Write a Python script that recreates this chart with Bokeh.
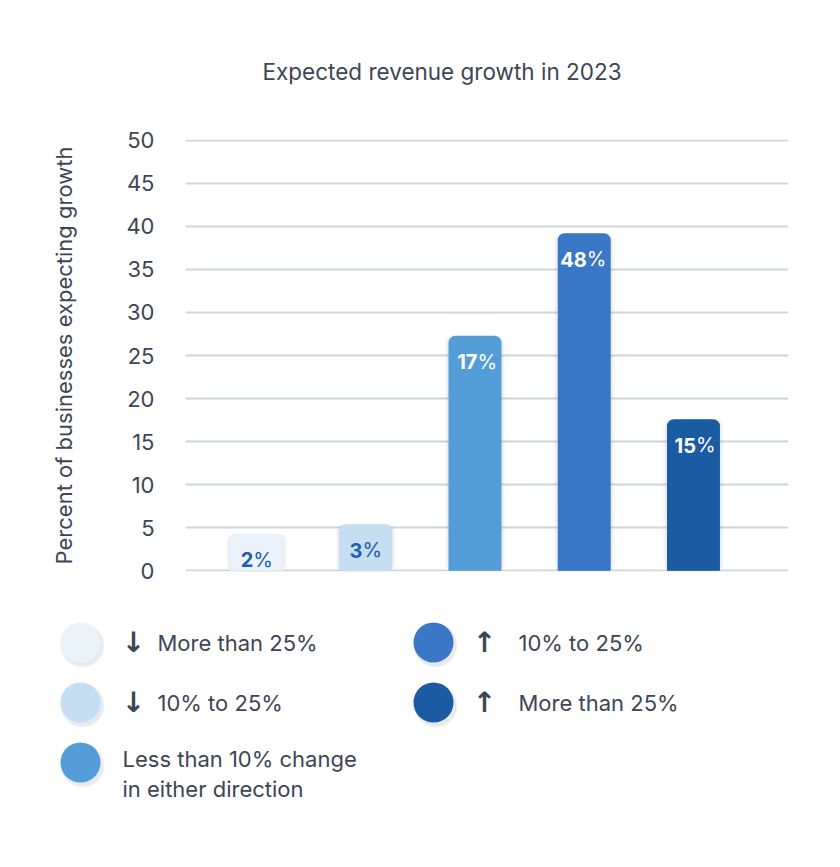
from bokeh.plotting import figure
from bokeh.layouts import column
from bokeh.models import Range1d, FixedTicker, ColumnDataSource
from bokeh.core.properties import value
from bokeh.embed import file_html
from bokeh.resources import INLINE

# ---- data ----
categories = ["More than 25%", "10% to 25%", "Less than 10% change\nin either direction",
              "10% to 25%", "More than 25%"]
arrows = ["↓", "↓", "", "↑", "↑"]
bar_values = [4.3, 5.4, 27.3, 39.2, 17.6]
bar_labels = ["2", "3", "17", "48", "15"]
bar_colors = ["#eaf2fa", "#c5def2", "#549dd9", "#3a77c6", "#1a5ba3"]
label_colors = ["#1f5ea8", "#1f5ea8", "#ffffff", "#ffffff", "#ffffff"]
y_ticks = [0, 5, 10, 15, 20, 25, 30, 35, 40, 45, 50]

FONT = "Inter"
TXT = "#3e4653"

# split offset between bold digits and regular "%" sign
DIG_W, PCT_W = 11.5, 18
split = [(-(len(s) * DIG_W + PCT_W) / 2 + len(s) * DIG_W) for s in bar_labels]

x = list(range(1, len(bar_values) + 1))
src = ColumnDataSource(dict(x=x, top=bar_values, color=bar_colors, label=bar_labels,
                            pct=["%"] * len(bar_labels), lcolor=label_colors, split=split))

p = figure(width=832, height=618, output_backend="svg", toolbar_location=None,
           x_range=Range1d(0.35, 5.87), y_range=Range1d(-0.1, 50.1),
           min_border_left=185, min_border_right=44, min_border_top=139,
           min_border_bottom=47, title="Expected revenue growth in 2023")
p.frame_align = False
p.outline_line_color = None
p.background_fill_color = "white"
p.border_fill_color = "white"

p.title.text_font = FONT
p.title.text_font_size = "22.5px"
p.title.text_font_style = "normal"
p.title.text_color = TXT
p.title.align = "left"
p.title.offset = 77
p.title.standoff = 110

p.xaxis.visible = False
p.xgrid.visible = False
yaxis = p.yaxis[0]
yaxis.ticker = FixedTicker(ticks=y_ticks)
yaxis.axis_line_color = None
yaxis.major_tick_line_color = None
yaxis.minor_tick_line_color = None
yaxis.major_label_standoff = 25
yaxis.major_label_text_font = FONT
yaxis.major_label_text_font_size = "22px"
yaxis.major_label_text_color = TXT
yaxis.axis_label = "Percent of businesses expecting growth"
yaxis.axis_label_text_font = FONT
yaxis.axis_label_text_font_size = "22px"
yaxis.axis_label_text_font_style = "normal"
yaxis.axis_label_text_color = TXT
yaxis.axis_label_standoff = 46
p.ygrid.ticker = FixedTicker(ticks=y_ticks)
p.ygrid.grid_line_color = "#d0d5dc"
p.ygrid.grid_line_width = 1.8

# soft shadows
for i, (w, a) in enumerate([(0.56, 0.035), (0.53, 0.05), (0.51, 0.06)]):
    p.vbar(x="x", top="top", bottom=-0.6 + i * 0.2, width=w, source=src,
           fill_color="#6a7a90", fill_alpha=a, line_color=None,
           border_radius=(8, 8, 8, 8))

p.vbar(x="x", top="top", bottom=0, width=0.485, source=src, fill_color="color",
       line_color=None, border_radius=(7, 7, 0, 0))

p.text(x="x", y="top", text="label", source=src, text_color="lcolor",
       text_align="right", text_baseline="middle", y_offset=26, x_offset="split",
       text_font=value(FONT), text_font_size="20px", text_font_style="bold")
p.text(x="x", y="top", text="pct", source=src, text_color="lcolor",
       text_align="left", text_baseline="middle", y_offset=26, x_offset="split",
       text_font=value(FONT), text_font_size="20px", text_font_style="normal")

# ---- legend figure ----
LH = 232
lg = figure(width=832, height=LH, output_backend="svg", toolbar_location=None,
            x_range=Range1d(0, 832), y_range=Range1d(LH, 0),
            x_axis_type=None, y_axis_type=None, min_border=0)
lg.frame_align = False
lg.outline_line_color = None
lg.grid.visible = False

col_x = [80, 433]
row_y0, row_dy = 24, 60
arrow_dx = [53, 51]
text_dx = [77, 85]
rows_per_col = 3
cx, cy, ax_, ay, at, tx, ty, tt = [], [], [], [], [], [], [], []
for i, cat in enumerate(categories):
    c = 0 if i < rows_per_col else 1
    r = i if c == 0 else i - rows_per_col
    X = col_x[c]
    Y = row_y0 + r * row_dy
    cx.append(X)
    cy.append(Y)
    lines = cat.split("\n")
    if arrows[i]:
        ax_.append(X + arrow_dx[c]); ay.append(Y); at.append(arrows[i])
        for k, ln in enumerate(lines):
            tx.append(X + text_dx[c]); ty.append(Y + k * 30); tt.append(ln)
    else:
        for k, ln in enumerate(lines):
            tx.append(X + 42); ty.append(Y - 4 + k * 30); tt.append(ln)

for d, a in [(5, 0.03), (3.5, 0.05), (2, 0.07)]:
    lg.scatter(x=[v + 2 for v in cx], y=[v + 3 for v in cy], size=40 + d,
               fill_color="#6a7a90", fill_alpha=a, line_color=None)
lg.scatter(x=cx, y=cy, size=40, fill_color=bar_colors, line_color=None)
lg.text(x=ax_, y=ay, text=at, text_align="center", text_baseline="middle",
        text_font=value("DejaVu Sans"), text_font_size="28px", text_font_style="bold",
        text_color=TXT)
lg.text(x=tx, y=ty, text=tt, text_align="left", text_baseline="middle",
        text_font=value(FONT), text_font_size="22px", text_color=TXT)

layout = column(p, lg, spacing=0)
open("out.html", "w").write(file_html(layout, INLINE))
